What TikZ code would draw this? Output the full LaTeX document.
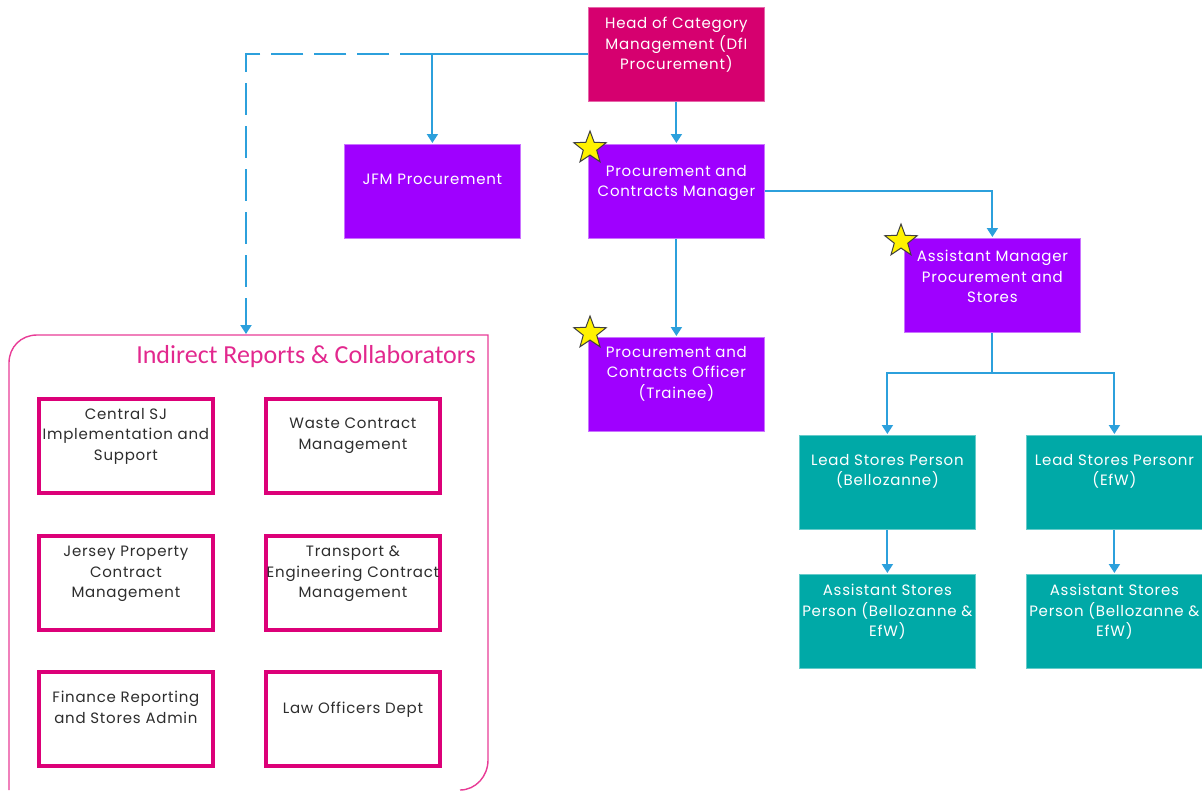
\documentclass[tikz,border=0pt]{standalone}
\usepackage{fontspec}
\usetikzlibrary{arrows.meta,shapes.geometric}
\newfontfamily\titlefont{Carlito}
\newfontfamily\gothic[LetterSpace=5]{Poppins}

\definecolor{headmag}{RGB}{214,0,111}
\definecolor{roleviolet}{RGB}{159,0,255}
\definecolor{storeteal}{RGB}{0,169,167}
\definecolor{linkblue}{RGB}{44,160,220}
\definecolor{framepink}{RGB}{232,60,150}
\definecolor{cellpink}{RGB}{220,0,120}
\definecolor{titlepink}{RGB}{226,40,142}
\definecolor{inktext}{RGB}{45,45,45}

\tikzset{
  x=1pt, y=-1pt,
  rolebox/.style={rectangle, minimum width=176pt, minimum height=94pt,
    anchor=north west, inner sep=0pt, line width=0.8pt},
  headbox/.style={rolebox, fill=headmag, draw=headmag!60!white},
  violetbox/.style={rolebox, fill=roleviolet, draw=roleviolet!55!white},
  tealbox/.style={rolebox, fill=storeteal, draw=storeteal!60!white},
  cellbox/.style={rectangle, minimum width=174pt, minimum height=94pt,
    anchor=north west, inner sep=0pt, draw=cellpink, line width=3.8pt, fill=white},
  label/.style={anchor=north, inner sep=0pt, align=center,
    font=\gothic\fontsize{15}{20.5}\selectfont},
  whitelabel/.style={label, text=white},
  darklabel/.style={label, text=inktext},
  link/.style={draw=linkblue, line width=2pt},
  arrowlink/.style={link, -{Triangle[width=11pt,length=9pt]}, shorten >=1pt},
  flagstar/.style={star, star points=5, star point ratio=2.4, minimum size=34pt,
    inner sep=0pt, fill=yellow, draw=black!75, line width=1pt}
}

\begin{document}
\begin{tikzpicture}
\useasboundingbox (0,0) rectangle (1202,790);

% main reporting line
\node[headbox]   (head) at (588,7)    {};
\node[violetbox] (jfm)  at (344,144)  {};
\node[violetbox] (mgr)  at (588,144)  {};
\node[violetbox] (am)   at (904,238)  {};
\node[violetbox] (off)  at (588,337)  {};
\node[tealbox]   (lb)   at (799,435)  {};
\node[tealbox]   (le)   at (1026,435) {};
\node[tealbox]   (asb)  at (799,574)  {};
\node[tealbox]   (ase)  at (1026,574) {};

\node[whitelabel] (head-t) at ([yshift=-10pt]head.north) {Head of Category\\Management (DfI\\Procurement)};
\node[whitelabel] (jfm-t)  at ([yshift=-30pt]jfm.north) {JFM Procurement};
\node[whitelabel] (mgr-t)  at ([yshift=-21pt]mgr.north) {Procurement and\\Contracts Manager};
\node[whitelabel] (am-t)   at ([yshift=-12pt]am.north)  {Assistant Manager\\Procurement and\\Stores};
\node[whitelabel] (off-t)  at ([yshift=-9pt]off.north)  {Procurement and\\Contracts Officer\\(Trainee)};
\node[whitelabel] (lb-t)   at ([yshift=-19pt]lb.north)  {Lead Stores Person\\(Bellozanne)};
\node[whitelabel] (le-t)   at ([yshift=-19pt]le.north)  {Lead Stores Personr\\(EfW)};
\node[whitelabel] (asb-t)  at ([yshift=-10pt]asb.north) {Assistant Stores\\Person (Bellozanne \&\\EfW)};
\node[whitelabel] (ase-t)  at ([yshift=-10pt]ase.north) {Assistant Stores\\Person (Bellozanne \&\\EfW)};

% indirect reports panel
\draw[framepink, line width=1.4pt]
  (9,790) -- (9,363) .. controls (9,347) and (21,335) .. (37,335)
  -- (488,335) -- (488,760) .. controls (488,776) and (476,790) .. (460,790);
\coordinate (indtop) at (246,335);
\node[text=titlepink, font=\titlefont\fontsize{26}{29}\selectfont,
  anchor=east, inner sep=0pt] (ind-title) at (476,357) {Indirect Reports \& Collaborators};

\node[cellbox] (c1) at (37,397)  {};
\node[cellbox] (c2) at (264,397) {};
\node[cellbox] (c3) at (37,534)  {};
\node[cellbox] (c4) at (264,534) {};
\node[cellbox] (c5) at (37,670)  {};
\node[cellbox] (c6) at (264,670) {};

\node[darklabel] (c1-t) at ([yshift=-11pt]c1.north) {Central SJ\\Implementation and\\Support};
\node[darklabel] (c2-t) at ([yshift=-21pt]c2.north) {Waste Contract\\Management};
\node[darklabel] (c3-t) at ([yshift=-12pt]c3.north) {Jersey Property\\Contract\\Management};
\node[darklabel] (c4-t) at ([yshift=-12pt]c4.north) {Transport \&\\Engineering Contract\\Management};
\node[darklabel] (c5-t) at ([yshift=-21pt]c5.north) {Finance Reporting\\and Stores Admin};
\node[darklabel] (c6-t) at ([yshift=-32pt]c6.north) {Law Officers Dept};

% connectors
\coordinate (jfmjoin) at (jfm.north |- head.west);
\coordinate (dashcorner) at (indtop |- head.west);
\draw[link] (head.west) -- (jfmjoin);
\draw[arrowlink] (jfmjoin) -- (jfm.north);
\draw[arrowlink, dash pattern=on 32pt off 11pt] (jfmjoin) -- (dashcorner) -- (indtop);
\draw[arrowlink] (head.south) -- (mgr.north);
\draw[arrowlink] (mgr.east) -- (mgr.east -| am.north) -- (am.north);
\draw[arrowlink] (mgr.south) -- (off.north);
\coordinate (split) at ([yshift=-40pt]am.south);
\draw[link] (am.south) -- (split);
\draw[arrowlink] (split) -| (lb.north);
\draw[arrowlink] (split) -| (le.north);
\draw[arrowlink] (lb.south) -- (asb.north);
\draw[arrowlink] (le.south) -- (ase.north);

% key-role markers
\node[flagstar] (s1) at (590,148) {};
\node[flagstar] (s2) at (590,333) {};
\node[flagstar] (s3) at (901,241) {};
\end{tikzpicture}
\end{document}
